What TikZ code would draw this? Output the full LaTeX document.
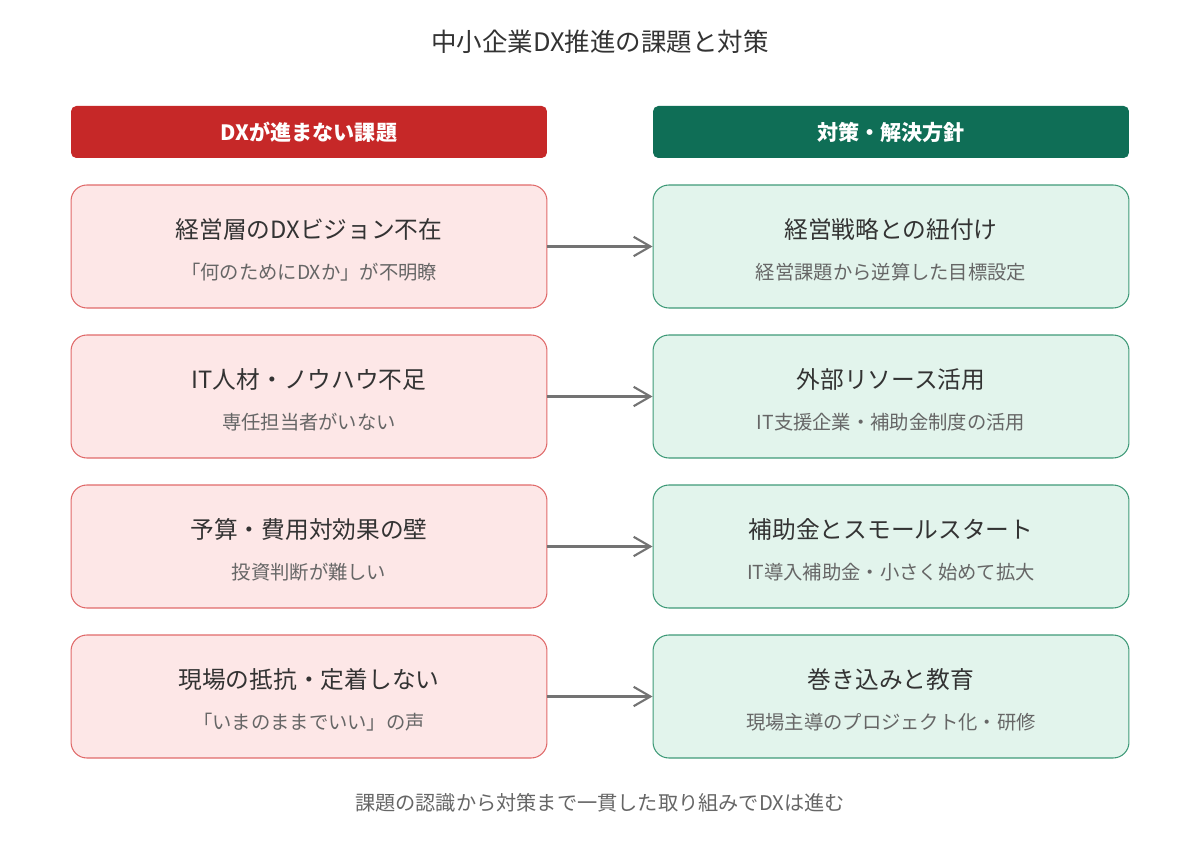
\documentclass[tikz,border=0pt]{standalone}
\usepackage{fontspec}
\setmainfont{Noto Sans CJK JP}
\usetikzlibrary{positioning,arrows.meta}
\definecolor{probred}{HTML}{C62828}
\definecolor{probfill}{HTML}{FDE7E7}
\definecolor{probline}{HTML}{E06A6A}
\definecolor{solgreen}{HTML}{0F6E56}
\definecolor{solfill}{HTML}{E2F4EC}
\definecolor{solline}{HTML}{3F9A78}
\definecolor{maintext}{HTML}{333333}
\definecolor{subtext}{HTML}{666666}
\tikzset{
  head/.style={rounded corners=3pt, minimum width=9.52cm, minimum height=1.04cm, text=white, font=\fontsize{12}{14}\selectfont\bfseries, inner sep=0pt},
  prob/.style={draw=probline, fill=probfill, rounded corners=9pt, minimum width=9.52cm, minimum height=2.46cm, inner sep=0pt, line width=0.6pt},
  sol/.style={draw=solline, fill=solfill, rounded corners=9pt, minimum width=9.52cm, minimum height=2.46cm, inner sep=0pt, line width=0.6pt},
  main/.style={text=maintext, font=\fontsize{13.5}{16}\selectfont},
  sub/.style={text=subtext, font=\fontsize{11}{13}\selectfont},
  link/.style={draw=black!55, line width=1.2pt, -{Straight Barb[angle=60:5pt 5]}}
}
\begin{document}
\begin{tikzpicture}[x=0.02cm, y=-0.02cm]
\useasboundingbox (0,0) rectangle (1200,847);
\node (title) [main, font=\fontsize{14.5}{17}\selectfont] at (600,42) {中小企業DX推進の課題と対策};

\node (probhead) [head, fill=probred] at (309,132) {DXが進まない課題};
\node (solhead) [head, fill=solgreen] at (891,132) {対策・解決方針};

\node (p1) [prob] at (309,246.5) {};
\node [main] at ([yshift=0.34cm]p1.center) {経営層のDXビジョン不在};
\node [sub] at ([yshift=-0.52cm]p1.center) {「何のためにDXか」が不明瞭};
\node (p2) [prob] at (309,396.5) {};
\node [main] at ([yshift=0.34cm]p2.center) {IT人材・ノウハウ不足};
\node [sub] at ([yshift=-0.52cm]p2.center) {専任担当者がいない};
\node (p3) [prob] at (309,546.5) {};
\node [main] at ([yshift=0.34cm]p3.center) {予算・費用対効果の壁};
\node [sub] at ([yshift=-0.52cm]p3.center) {投資判断が難しい};
\node (p4) [prob] at (309,696.5) {};
\node [main] at ([yshift=0.34cm]p4.center) {現場の抵抗・定着しない};
\node [sub] at ([yshift=-0.52cm]p4.center) {「いまのままでいい」の声};

\node (s1) [sol] at (891,246.5) {};
\node [main] at ([yshift=0.34cm]s1.center) {経営戦略との紐付け};
\node [sub] at ([yshift=-0.52cm]s1.center) {経営課題から逆算した目標設定};
\node (s2) [sol] at (891,396.5) {};
\node [main] at ([yshift=0.34cm]s2.center) {外部リソース活用};
\node [sub] at ([yshift=-0.52cm]s2.center) {IT支援企業・補助金制度の活用};
\node (s3) [sol] at (891,546.5) {};
\node [main] at ([yshift=0.34cm]s3.center) {補助金とスモールスタート};
\node [sub] at ([yshift=-0.52cm]s3.center) {IT導入補助金・小さく始めて拡大};
\node (s4) [sol] at (891,696.5) {};
\node [main] at ([yshift=0.34cm]s4.center) {巻き込みと教育};
\node [sub] at ([yshift=-0.52cm]s4.center) {現場主導のプロジェクト化・研修};

\node (footer) [sub, font=\fontsize{11.5}{14}\selectfont] at (600,803) {課題の認識から対策まで一貫した取り組みでDXは進む};

\draw[link] (p1) to (s1);
\draw[link] (p2) to (s2);
\draw[link] (p3) to (s3);
\draw[link] (p4) to (s4);
\end{tikzpicture}
\end{document}
